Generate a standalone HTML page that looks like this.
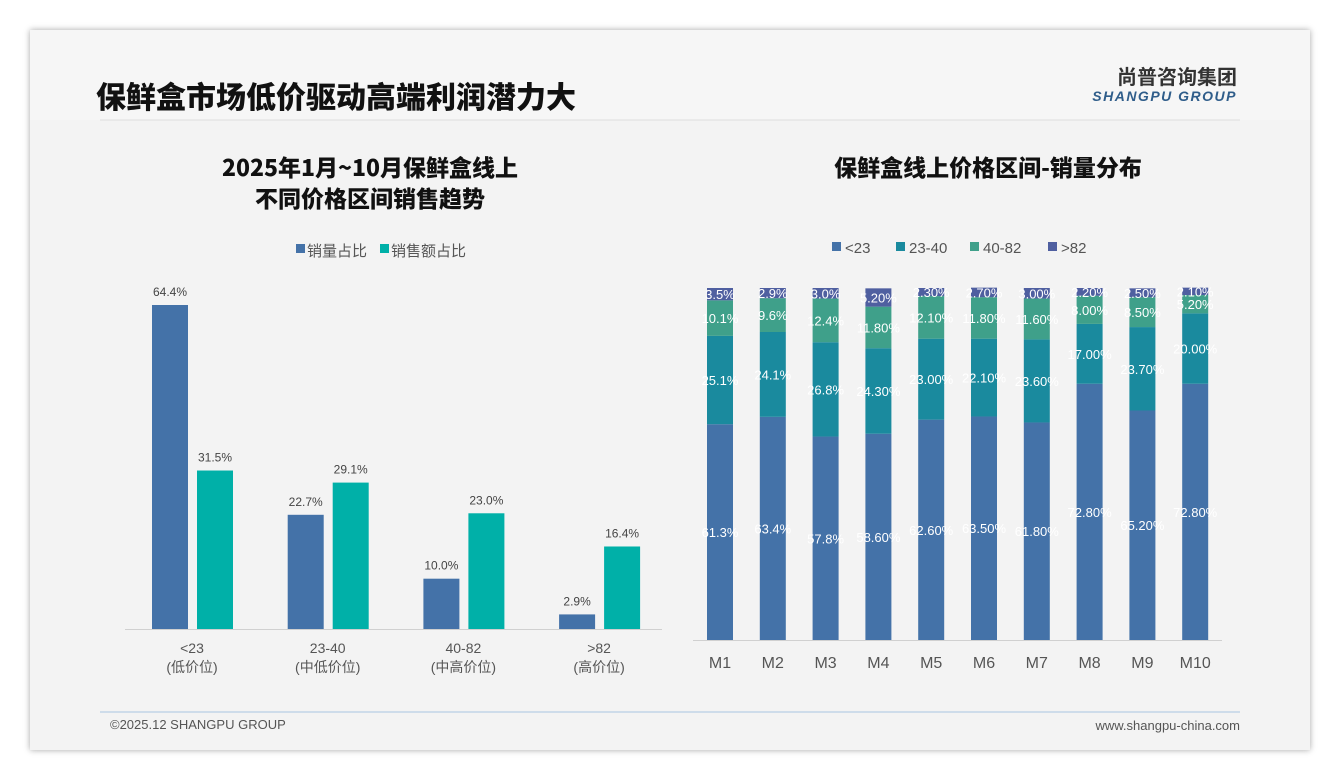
<!DOCTYPE html>
<html><head><meta charset="utf-8">
<style>
html,body{margin:0;padding:0;width:1340px;height:780px;background:#fff;overflow:hidden;font-family:"Liberation Sans","Noto Sans CJK SC",sans-serif;}
#card{position:absolute;left:30px;top:30px;width:1280px;height:720px;background:#f3f3f3;box-shadow:0 0 6px rgba(0,0,0,.35);}
svg{position:absolute;left:0;top:0;}
</style></head>
<body>
<div id="card"></div>
<svg id="s" width="1340" height="780">
<rect x="30" y="30" width="1280" height="90" fill="#f6f6f6"/>
<text x="96" y="108" font-size="30" font-weight="900" fill="#111" font-family="Noto Sans CJK SC,sans-serif">保鲜盒市场低价驱动高端利润潜力大</text>
<text x="1237" y="84" font-size="20" font-weight="bold" fill="#333" text-anchor="end" font-family="Noto Sans CJK SC,sans-serif">尚普咨询集团</text>
<text x="1237" y="101" font-size="14" font-weight="bold" font-style="italic" fill="#2f5d8a" text-anchor="end" letter-spacing="1.5">SHANGPU GROUP</text>
<line x1="100" y1="120" x2="1240" y2="120" stroke="#ddd"/>
<text x="370" y="176" font-size="23" font-weight="900" fill="#111" text-anchor="middle" font-family="Noto Sans CJK SC,sans-serif">2025年1月~10月保鲜盒线上</text>
<text x="370" y="207" font-size="23" font-weight="900" fill="#111" text-anchor="middle" font-family="Noto Sans CJK SC,sans-serif">不同价格区间销售趋势</text>
<text x="988" y="176" font-size="23" font-weight="900" fill="#111" text-anchor="middle" font-family="Noto Sans CJK SC,sans-serif">保鲜盒线上价格区间-销量分布</text>
<g id="left"></g>
<g id="right"></g>
<line x1="100" y1="712" x2="1240" y2="712" stroke="#a9c4e0"/>
<text x="110" y="729" font-size="13" fill="#555">©2025.12 SHANGPU GROUP</text>
<text x="1240" y="730" font-size="13" fill="#555" text-anchor="end">www.shangpu-china.com</text>
</svg>
<script>
const NS="http://www.w3.org/2000/svg";
function mk(p,t,a,txt){const e=document.createElementNS(NS,t);for(const k in a)e.setAttribute(k,a[k]);if(txt!=null)e.textContent=txt;p.appendChild(e);return e;}
// Left chart data
const leftCats=["<23","23-40","40-82",">82"];
const leftSub=["(低价位)","(中低价位)","(中高价位)","(高价位)"];
const volShare=[64.4,22.7,10.0,2.9];
const salesShare=[31.5,29.1,23.0,16.4];
// Right chart data
const months=["M1","M2","M3","M4","M5","M6","M7","M8","M9","M10"];
const s23=[61.3,63.4,57.8,58.6,62.6,63.5,61.8,72.8,65.2,72.8];
const s2340=[25.1,24.1,26.8,24.3,23.0,22.1,23.6,17.0,23.7,20.0];
const s4082=[10.1,9.6,12.4,11.8,12.1,11.8,11.6,8.0,8.5,5.2];
const s82=[3.5,2.9,3.0,5.2,2.3,2.7,3.0,2.2,2.5,2.1];
const lbl23=["61.3%","63.4%","57.8%","58.60%","62.60%","63.50%","61.80%","72.80%","65.20%","72.80%"];
const lbl2340=["25.1%","24.1%","26.8%","24.30%","23.00%","22.10%","23.60%","17.00%","23.70%","20.00%"];
const lbl4082=["10.1%","9.6%","12.4%","11.80%","12.10%","11.80%","11.60%","8.00%","8.50%","5.20%"];
const lbl82=["3.5%","2.9%","3.0%","5.20%","2.30%","2.70%","3.00%","2.20%","2.50%","2.10%"];

const L=document.getElementById('left');
const lBase=629, lScale=324/64.4;
const ly=v=>lBase-v*lScale;
const lx=i=>188+i*135.7;
let e;
e=mk(L,'rect',{x:296,y:244,width:9,height:9,fill:'#4472a8'});

e=mk(L,'text',{x:307,y:256,'font-size':15,fill:'#555'},'销量占比');

e=mk(L,'rect',{x:380,y:244,width:9,height:9,fill:'#00b0a8'});

e=mk(L,'text',{x:391,y:256,'font-size':15,fill:'#555'},'销售额占比');

for(let i=0;i<leftCats.length;i++){
  const c=lx(i);
  e=mk(L,'rect',{x:c-36,y:ly(volShare[i]),width:36,height:volShare[i]*lScale,fill:'#4472a8'});
  
  e=mk(L,'text',{x:c-18,y:ly(volShare[i])-9,'font-size':12,fill:'#444','text-anchor':'middle'},volShare[i].toFixed(1)+'%');
  
  e=mk(L,'rect',{x:c+9,y:ly(salesShare[i]),width:36,height:salesShare[i]*lScale,fill:'#00b0a8'});
  
  e=mk(L,'text',{x:c+27,y:ly(salesShare[i])-9,'font-size':12,fill:'#444','text-anchor':'middle'},salesShare[i].toFixed(1)+'%');
  
  e=mk(L,'text',{x:c+4,y:653,'font-size':14,fill:'#555','text-anchor':'middle'},leftCats[i]);
  
  e=mk(L,'text',{x:c+4,y:672,'font-size':14,fill:'#555','text-anchor':'middle'},leftSub[i]);
  
}
e=mk(L,'line',{x1:125,y1:lBase+0.5,x2:662,y2:lBase+0.5,stroke:'#d0d0d0'});


const R=document.getElementById('right');
const rBase=640, rScale=352/100;
const rx=i=>720+i*52.8;
const series=[s23,s2340,s4082,s82];
const labels=[lbl23,lbl2340,lbl4082,lbl82];
const colors=['#4472a8','#1a8a9e','#3fa08a','#4f5fa0'];
const names=['<23','23-40','40-82','>82'];
const legX=[832,896,970,1048];
for(let k=0;k<4;k++){
  e=mk(R,'rect',{x:legX[k],y:242,width:9,height:9,fill:colors[k]});
  
  e=mk(R,'text',{x:legX[k]+13,y:253,'font-size':15,fill:'#555'},names[k]);
  
}
for(let i=0;i<months.length;i++){
  let acc=0;const c=rx(i);
  for(let k=0;k<4;k++){
    const v=series[k][i];
    const y0=rBase-acc*rScale, y1=rBase-(acc+v)*rScale;
    e=mk(R,'rect',{x:c-13,y:y1,width:26,height:y0-y1,fill:colors[k]});
    
    e=mk(R,'text',{x:c,y:(y0+y1)/2+5,'font-size':13,fill:'#fff','text-anchor':'middle'},labels[k][i]);
    
    acc+=v;
  }
  e=mk(R,'text',{x:c,y:668,'font-size':16,fill:'#555','text-anchor':'middle'},months[i]);
  
}
e=mk(R,'line',{x1:693,y1:rBase+0.5,x2:1222,y2:rBase+0.5,stroke:'#d0d0d0'});

</script>
</body></html>
